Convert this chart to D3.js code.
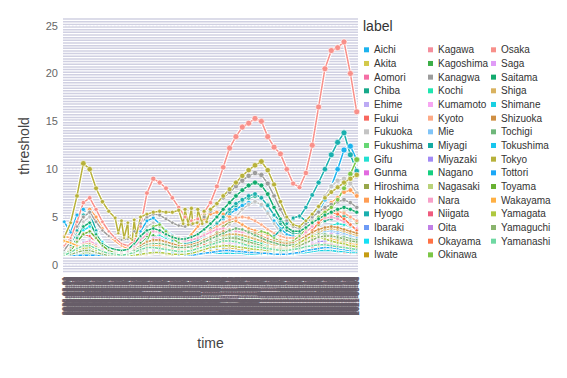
<!DOCTYPE html>
<html>
<head>
<meta charset="utf-8">
<script src="https://cdnjs.cloudflare.com/ajax/libs/d3/7.8.5/d3.min.js"></script>
<style>
body { margin: 0; background: #fff; }
text { font-family: "Liberation Sans", Arial, Helvetica, sans-serif; }
</style>
</head>
<body>
<div id="chart"></div>
<script>
// categories (legend order)
var labels = ["Aichi","Akita","Aomori","Chiba","Ehime","Fukui","Fukuoka","Fukushima","Gifu","Gunma",
  "Hiroshima","Hokkaido","Hyogo","Ibaraki","Ishikawa","Iwate","Kagawa","Kagoshima","Kanagwa","Kochi",
  "Kumamoto","Kyoto","Mie","Miyagi","Miyazaki","Nagano","Nagasaki","Nara","Niigata","Oita",
  "Okayama","Okinawa","Osaka","Saga","Saitama","Shiga","Shimane","Shizuoka","Tochigi","Tokushima",
  "Tokyo","Tottori","Toyama","Wakayama","Yamagata","Yamaguchi","Yamanashi"];

var palette = ["#1cb3ee","#d3c94b","#f56fa6","#17a98a","#bcaaf4","#f8675f","#c4c4c4","#66d774","#22e0d2","#e26ae0",
  "#98a74b","#ff9d54","#1aafae","#6e9bf5","#16e0f5","#c59c12","#f48e9c","#3cae47","#9c9c9c","#1fe6b0",
  "#f7a6f2","#fdaa86","#80c4f7","#14aba2","#a28af5","#15cf80","#b9d27a","#f7a0c8","#ef5b7e","#c07fe6",
  "#ff7245","#7cc646","#f8908a","#e09bf7","#12aa6e","#d9b25f","#18d0e2","#cf8f43","#6fb77a","#17c6ee",
  "#b7b13a","#1ba8f7","#68b132","#ffb043","#afc83f","#8ab46d","#6fd8a2"];

// one value every 10 days from startDate
var startDate = "2020-03-01", stepDays = 10, endDate = "2021-06-04";

var Aichi     = [4.5,3.4,5.2,5.8,5.0,3.6,2.4,1.7,1.3,1.2,1.3,2.0,3.5,4.6,4.9,4.3,3.6,3.1,2.8,2.7,2.8,3.0,3.3,3.7,4.2,4.8,5.3,5.8,6.2,6.5,6.6,6.2,5.5,4.6,3.8,3.2,3.0,3.2,3.8,4.6,5.6,6.8,8.2,10.0,12.0,12.4,11.0];
var Akita     = [1.0,1.0,1.2,1.4,1.5,1.3,1.1,1.0,1.0,1.0,1.0,1.0,1.1,1.2,1.3,1.2,1.1,1.0,1.0,1.0,1.1,1.2,1.3,1.4,1.5,1.6,1.7,1.8,1.7,1.6,1.5,1.6,1.4,1.3,1.2,1.1,1.1,1.3,1.5,1.7,1.9,2.1,2.2,2.0,1.8,1.6,1.5];
var Aomori    = [1.0,1.0,1.1,1.3,1.4,1.2,1.0,1.0,1.0,1.0,1.0,1.0,1.0,1.1,1.2,1.3,1.2,1.1,1.0,1.0,1.1,1.3,1.5,1.7,1.8,1.9,1.8,1.7,1.6,1.5,1.4,1.3,1.3,1.2,1.2,1.1,1.2,1.4,1.6,1.9,2.1,2.3,2.4,2.3,2.1,1.9,1.8];
var Chiba     = [1.3,2.0,3.0,3.8,4.0,3.0,2.2,1.7,1.5,1.4,1.5,2.0,2.8,3.4,3.6,3.4,3.0,2.7,2.5,2.4,2.5,2.8,3.2,3.8,4.4,5.0,5.6,6.2,6.7,7.0,7.2,7.0,6.3,5.2,4.3,3.6,3.3,3.3,3.6,4.0,4.3,4.6,4.8,5.0,5.1,4.9,4.6];
var Ehime     = [1.0,1.1,1.3,1.6,1.8,1.5,1.2,1.0,1.0,1.0,1.0,1.1,1.2,1.4,1.6,1.7,1.5,1.3,1.2,1.1,1.2,1.3,1.5,1.7,1.9,2.1,2.2,2.1,2.0,1.9,1.8,1.7,1.6,1.4,1.3,1.3,1.4,1.6,2.0,2.4,2.7,2.6,2.4,2.2,2.0,1.8,1.7];
var Fukui     = [1.2,1.8,2.6,3.2,3.0,2.2,1.5,1.1,1.0,1.0,1.0,1.0,1.1,1.3,1.5,1.4,1.3,1.2,1.1,1.0,1.0,1.1,1.2,1.3,1.4,1.5,1.5,1.4,1.4,1.3,1.3,1.2,1.2,1.1,1.1,1.2,1.3,1.5,1.7,1.8,1.7,1.6,1.5,1.4,1.3,1.2,1.2];
var Fukuoka   = [1.0,1.5,3.0,4.5,5.0,3.2,2.0,1.4,1.2,1.1,1.2,1.8,3.0,4.0,4.4,4.0,3.2,2.6,2.2,2.0,2.0,2.1,2.3,2.6,3.0,3.5,4.2,5.0,5.8,6.3,6.6,6.3,5.4,4.3,3.4,2.8,2.6,3.0,3.8,4.8,6.0,7.2,8.2,8.8,9.0,8.5,7.5];
var Fukushima = [1.0,1.1,1.3,1.6,1.8,1.6,1.3,1.1,1.0,1.0,1.0,1.1,1.2,1.4,1.5,1.5,1.4,1.3,1.2,1.2,1.3,1.5,1.7,1.9,2.0,2.1,2.2,2.3,2.2,2.1,2.0,1.9,1.8,1.7,1.6,1.7,1.9,2.1,2.3,2.5,2.6,2.5,2.4,2.3,2.2,2.1,2.0];
var Gifu      = [1.3,1.8,2.6,3.2,3.4,2.8,2.0,1.4,1.2,1.1,1.1,1.4,2.0,2.6,3.0,3.1,2.8,2.4,2.1,2.0,2.0,2.1,2.3,2.6,2.9,3.2,3.4,3.5,3.6,3.5,3.3,3.1,2.8,2.5,2.2,2.0,2.0,2.2,2.6,3.0,3.4,3.8,4.1,4.3,4.2,4.0,3.7];
var Gunma     = [1.1,1.4,1.8,2.1,2.2,1.9,1.5,1.2,1.1,1.0,1.1,1.3,1.6,1.9,2.1,2.2,2.0,1.8,1.7,1.7,1.9,2.2,2.5,2.8,3.0,3.2,3.3,3.2,3.0,2.8,2.6,2.5,2.3,2.1,1.9,1.8,1.8,2.0,2.3,2.6,2.9,3.1,3.3,3.4,3.3,3.1,2.9];
var Hiroshima = [1.0,1.2,1.6,2.0,2.2,1.8,1.4,1.2,1.1,1.0,1.1,1.4,1.8,2.2,2.5,2.6,2.4,2.1,1.9,1.8,1.8,2.0,2.3,2.8,3.4,4.0,4.5,4.6,4.2,3.8,3.4,3.0,2.7,2.4,2.2,2.0,2.0,2.3,2.8,3.4,4.2,4.9,5.4,5.6,5.5,5.0,4.4];
var Hokkaido  = [3.0,2.8,3.5,5.0,5.8,5.0,3.8,3.0,2.5,2.0,1.7,1.6,1.8,2.0,2.2,2.2,2.0,1.9,2.0,2.5,3.2,4.0,4.8,5.3,5.5,5.3,5.0,4.6,4.2,3.8,3.6,3.4,3.1,2.8,2.6,2.5,2.5,2.8,3.4,4.2,5.0,5.8,6.5,7.0,7.6,7.8,7.2];
var Hyogo     = [1.2,1.8,3.6,5.2,5.5,3.6,2.2,1.6,1.3,1.2,1.3,1.6,2.5,3.2,3.5,3.4,3.0,2.6,2.3,2.2,2.3,2.6,3.0,3.6,4.3,5.0,5.8,6.4,6.8,7.2,7.4,7.0,6.2,5.2,4.6,4.6,4.8,5.0,6.0,7.3,8.6,10.0,11.5,12.8,13.8,11.5,9.8];
var Ibaraki   = [1.1,1.5,2.0,2.4,2.6,2.2,1.7,1.4,1.2,1.2,1.3,1.6,2.0,2.3,2.5,2.4,2.2,2.0,1.9,1.9,2.0,2.2,2.5,2.8,3.1,3.3,3.5,3.6,3.5,3.3,3.1,2.9,2.7,2.5,2.3,2.2,2.2,2.5,2.9,3.2,3.5,3.6,3.5,3.3,3.2,3.0,2.8];
var Ishikawa  = [1.2,1.8,2.8,3.6,4.0,3.3,2.4,1.7,1.3,1.1,1.1,1.3,1.7,2.0,2.2,2.2,2.0,1.8,1.6,1.5,1.6,1.8,2.0,2.2,2.4,2.5,2.6,2.5,2.4,2.2,2.1,2.0,1.9,1.8,1.7,1.7,1.9,2.2,2.6,2.9,3.0,2.9,2.7,2.5,2.4,2.2,2.1];
var Iwate     = [1.0,1.0,1.0,1.0,1.0,1.0,1.0,1.0,1.0,1.0,1.0,1.0,1.0,1.1,1.2,1.2,1.1,1.0,1.0,1.0,1.1,1.2,1.4,1.5,1.6,1.7,1.8,1.7,1.6,1.5,1.4,1.3,1.3,1.2,1.2,1.2,1.3,1.4,1.5,1.6,1.7,1.8,1.8,1.7,1.6,1.5,1.4];
var Kagawa    = [1.0,1.1,1.3,1.5,1.6,1.4,1.2,1.0,1.0,1.0,1.0,1.0,1.1,1.2,1.4,1.5,1.4,1.3,1.2,1.2,1.3,1.4,1.6,1.7,1.8,1.9,2.0,2.0,1.9,1.8,1.7,1.6,1.5,1.4,1.3,1.3,1.4,1.6,1.8,2.0,2.1,2.0,1.9,1.8,1.7,1.6,1.5];
var Kagoshima = [1.0,1.0,1.1,1.3,1.4,1.3,1.1,1.0,1.0,1.0,1.1,1.5,2.3,3.0,3.1,2.7,2.2,1.8,1.6,1.5,1.5,1.6,1.7,1.8,1.9,2.0,2.1,2.0,1.9,1.8,1.7,1.6,1.5,1.4,1.3,1.3,1.4,1.6,1.8,2.1,2.4,2.6,2.5,2.3,2.1,1.9,1.8];
var Kanagwa   = [1.5,2.5,4.0,5.0,5.5,4.5,3.6,3.0,2.8,2.6,2.7,3.5,4.3,5.0,5.3,5.2,4.8,4.4,4.1,4.0,4.2,4.5,5.0,5.6,6.3,7.0,7.6,8.2,8.8,9.3,9.6,9.4,8.5,7.2,5.8,4.6,4.0,3.8,4.3,5.0,5.5,6.0,6.3,6.6,6.8,6.5,6.0];
var Kochi     = [1.0,1.3,1.7,2.0,2.1,1.7,1.3,1.1,1.0,1.0,1.0,1.1,1.2,1.4,1.5,1.5,1.4,1.3,1.2,1.2,1.3,1.5,1.8,2.2,2.6,2.8,2.7,2.4,2.1,1.9,1.7,1.6,1.5,1.4,1.3,1.3,1.4,1.6,1.8,2.0,2.2,2.2,2.1,2.0,1.9,1.8,1.7];
var Kumamoto  = [1.0,1.1,1.3,1.6,1.8,1.6,1.3,1.1,1.0,1.0,1.1,1.4,1.9,2.4,2.8,2.8,2.5,2.2,2.0,1.9,1.9,2.0,2.2,2.4,2.6,2.8,2.9,3.0,2.9,2.7,2.5,2.3,2.1,1.9,1.8,1.7,1.8,2.1,2.5,2.9,3.3,3.6,3.8,3.7,3.5,3.2,3.0];
var Kyoto     = [1.2,1.8,2.6,3.3,3.5,2.8,2.1,1.7,1.5,1.4,1.5,1.9,2.6,3.2,3.6,3.6,3.3,3.0,2.8,2.7,2.7,2.9,3.2,3.6,4.0,4.4,4.7,4.9,5.0,4.9,4.6,4.2,3.7,3.3,3.0,2.8,2.8,3.1,3.6,4.2,4.8,5.3,5.5,5.6,5.4,5.0,4.6];
var Mie       = [1.0,1.1,1.3,1.5,1.6,1.4,1.2,1.0,1.0,1.0,1.1,1.4,1.8,2.2,2.5,2.5,2.3,2.1,1.9,1.8,1.8,1.9,2.1,2.3,2.5,2.7,2.9,3.0,2.9,2.7,2.5,2.3,2.1,1.9,1.8,1.7,1.8,2.0,2.4,2.8,3.2,3.5,3.6,3.5,3.3,3.1,2.9];
var Miyagi    = [1.0,1.3,1.7,2.0,2.1,1.8,1.4,1.2,1.1,1.0,1.0,1.1,1.3,1.5,1.6,1.6,1.5,1.4,1.4,1.5,1.7,1.9,2.1,2.3,2.4,2.5,2.5,2.4,2.3,2.2,2.2,2.3,2.6,3.0,3.6,4.3,4.9,5.1,4.6,4.0,3.4,2.9,2.6,2.4,2.3,2.2,2.1];
var Miyazaki  = [1.0,1.0,1.1,1.3,1.4,1.3,1.1,1.0,1.0,1.0,1.1,1.3,1.6,1.9,2.0,1.9,1.7,1.5,1.4,1.4,1.5,1.7,1.9,2.2,2.6,3.0,3.2,3.1,2.8,2.5,2.2,2.0,1.8,1.6,1.5,1.4,1.5,1.7,1.9,2.2,2.4,2.5,2.5,2.4,2.3,2.1,2.0];
var Nagano    = [1.0,1.2,1.5,1.7,1.8,1.6,1.3,1.1,1.0,1.0,1.1,1.3,1.5,1.7,1.8,1.8,1.7,1.6,1.5,1.5,1.6,1.8,2.1,2.4,2.7,2.9,3.0,3.0,2.8,2.6,2.4,2.2,2.0,1.8,1.7,1.6,1.7,1.9,2.2,2.5,2.8,3.0,3.0,2.9,2.8,2.6,2.4];
var Nagasaki  = [1.0,1.0,1.2,1.4,1.5,1.3,1.1,1.0,1.0,1.0,1.1,1.4,1.8,2.2,2.5,2.4,2.1,1.9,1.7,1.6,1.6,1.7,1.9,2.1,2.3,2.5,2.5,2.4,2.2,2.0,1.9,1.8,1.7,1.6,1.5,1.5,1.6,1.8,2.1,2.5,2.8,3.0,3.0,2.9,2.7,2.5,2.3];
var Nara      = [1.0,1.4,1.9,2.3,2.5,2.1,1.6,1.3,1.2,1.2,1.4,1.9,2.6,3.2,3.5,3.4,3.1,2.8,2.6,2.5,2.6,2.8,3.1,3.4,3.7,3.8,3.7,3.5,3.4,3.3,3.2,3.0,2.8,2.6,2.4,2.3,2.5,2.9,3.4,4.0,4.5,4.9,5.0,4.8,4.5,4.1,3.8];
var Niigata   = [1.0,1.2,1.5,1.7,1.8,1.5,1.3,1.1,1.0,1.0,1.0,1.1,1.2,1.4,1.5,1.5,1.4,1.3,1.3,1.3,1.4,1.5,1.6,1.8,1.9,2.0,2.0,1.9,1.8,1.7,1.7,1.6,1.5,1.5,1.4,1.4,1.5,1.7,1.9,2.1,2.2,2.2,2.1,2.0,1.9,1.8,1.7];
var Oita      = [1.1,1.4,1.8,2.0,2.0,1.7,1.4,1.2,1.1,1.0,1.0,1.1,1.3,1.5,1.5,1.5,1.4,1.3,1.3,1.3,1.4,1.6,1.8,2.0,2.2,2.4,2.4,2.3,2.2,2.0,1.9,1.8,1.7,1.6,1.5,1.5,1.6,1.8,2.1,2.4,2.7,2.8,2.8,2.7,2.6,2.4,2.3];
var Okayama   = [1.0,1.1,1.3,1.5,1.5,1.3,1.1,1.0,1.0,1.0,1.1,1.3,1.6,1.9,2.0,2.0,1.8,1.7,1.6,1.6,1.7,1.9,2.1,2.3,2.5,2.5,2.4,2.3,2.2,2.1,2.0,1.9,1.8,1.7,1.6,1.6,1.8,2.2,2.8,3.6,4.4,5.1,5.5,5.3,4.8,4.2,3.6];
var Okinawa   = [1.0,1.0,1.1,1.2,1.2,1.1,1.0,1.0,1.0,1.0,1.0,1.1,1.3,2.5,4.0,4.2,3.5,2.8,2.3,2.0,2.0,2.2,2.5,2.8,3.0,3.0,2.8,2.6,2.6,2.8,3.2,3.5,3.3,2.8,2.4,2.3,2.5,3.0,3.8,4.5,5.0,5.5,6.0,6.8,8.0,9.5,11.0];
var Osaka     = [2.0,2.8,4.5,6.5,7.0,5.8,4.5,3.5,2.8,2.2,2.0,2.5,4.0,7.5,9.0,8.6,8.0,7.0,6.0,5.0,4.6,4.8,5.5,6.5,8.2,10.2,12.2,13.4,14.4,14.8,15.3,15.0,13.4,12.3,11.6,10.0,8.5,8.1,9.6,12.5,16.5,20.5,22.4,22.7,23.3,20.0,16.0];
var Saga      = [1.0,1.1,1.4,1.7,1.8,1.5,1.2,1.0,1.0,1.0,1.1,1.3,1.5,1.7,1.8,1.8,1.6,1.5,1.4,1.4,1.5,1.7,1.9,2.1,2.2,2.3,2.3,2.2,2.1,2.0,1.9,1.8,1.7,1.6,1.5,1.5,1.6,1.9,2.2,2.5,2.8,3.0,3.0,2.9,2.7,2.5,2.3];
var Saitama   = [1.2,1.6,2.8,4.0,4.4,3.2,2.2,1.8,1.6,1.5,1.6,2.2,3.0,3.6,3.8,3.6,3.2,2.9,2.7,2.7,2.9,3.2,3.7,4.3,5.0,5.8,6.5,7.2,7.8,8.3,8.6,8.3,7.4,6.0,4.8,3.9,3.5,3.5,3.9,4.4,4.8,5.2,5.5,5.8,6.0,5.8,5.5];
var Shiga     = [1.0,1.3,1.8,2.1,2.2,1.9,1.5,1.2,1.1,1.1,1.2,1.6,2.0,2.3,2.5,2.5,2.3,2.1,2.0,1.9,2.0,2.2,2.4,2.7,2.9,3.1,3.2,3.2,3.1,2.9,2.7,2.5,2.3,2.1,2.0,1.9,2.0,2.3,2.7,3.1,3.4,3.7,3.8,3.7,3.5,3.3,3.1];
var Shimane   = [1.0,1.0,1.0,1.0,1.0,1.0,1.0,1.0,1.0,1.0,1.0,1.1,1.4,1.8,2.0,1.8,1.5,1.3,1.2,1.1,1.1,1.1,1.2,1.2,1.2,1.2,1.2,1.2,1.2,1.1,1.1,1.1,1.1,1.1,1.1,1.1,1.1,1.2,1.3,1.4,1.5,1.5,1.5,1.4,1.4,1.3,1.3];
var Shizuoka  = [1.0,1.2,1.6,1.9,2.0,1.7,1.4,1.2,1.1,1.1,1.2,1.6,2.0,2.4,2.6,2.6,2.4,2.2,2.0,2.0,2.1,2.3,2.6,2.9,3.2,3.5,3.7,3.8,3.7,3.5,3.3,3.0,2.7,2.5,2.3,2.2,2.3,2.6,3.0,3.4,3.7,3.9,4.0,3.9,3.7,3.5,3.3];
var Tochigi   = [1.0,1.2,1.6,1.9,2.0,1.7,1.4,1.2,1.1,1.1,1.2,1.5,1.8,2.1,2.2,2.2,2.1,1.9,1.8,1.8,1.9,2.1,2.4,2.7,3.0,3.3,3.6,3.8,3.7,3.4,3.1,2.8,2.5,2.3,2.1,2.0,2.1,2.4,2.7,3.0,3.2,3.2,3.1,3.0,2.9,2.7,2.6];
var Tokushima = [1.0,1.1,1.3,1.5,1.6,1.4,1.2,1.0,1.0,1.0,1.0,1.1,1.2,1.3,1.4,1.4,1.3,1.2,1.2,1.2,1.3,1.4,1.6,1.7,1.8,1.9,2.0,2.0,1.9,1.8,1.7,1.6,1.5,1.5,1.4,1.4,1.6,1.9,2.3,2.7,3.0,2.9,2.7,2.5,2.3,2.1,2.0];
var Tokyo     = [2.9,4.4,7.2,10.6,10.0,8.0,6.6,5.6,4.9,4.6,4.4,4.7,5.0,5.3,5.5,5.6,5.5,5.5,5.7,5.8,5.9,5.8,5.6,5.8,6.4,7.2,7.9,8.6,9.3,9.9,10.4,10.8,9.9,8.4,6.6,5.0,4.2,4.0,4.6,5.3,6.1,7.0,7.6,8.1,8.6,9.0,9.4];
var Tottori   = [1.0,1.0,1.0,1.0,1.0,1.0,1.0,1.0,1.0,1.0,1.0,1.0,1.1,1.2,1.3,1.3,1.2,1.1,1.0,1.0,1.0,1.1,1.2,1.3,1.4,1.5,1.5,1.4,1.4,1.3,1.3,1.2,1.2,1.1,1.1,1.1,1.2,1.3,1.5,1.6,1.7,1.8,1.8,1.7,1.6,1.5,1.5];
var Toyama    = [1.1,1.5,2.4,3.2,3.5,2.8,2.0,1.5,1.2,1.1,1.1,1.2,1.4,1.6,1.8,1.8,1.7,1.5,1.4,1.4,1.5,1.6,1.8,1.9,2.0,2.0,2.0,1.9,1.8,1.7,1.7,1.6,1.6,1.5,1.5,1.5,1.6,1.9,2.3,2.7,3.0,3.0,2.9,2.7,2.5,2.3,2.2];
var Wakayama  = [2.5,2.3,2.0,1.9,1.8,1.5,1.3,1.1,1.0,1.0,1.1,1.3,1.6,1.9,2.0,2.0,1.8,1.6,1.5,1.5,1.6,1.7,1.9,2.1,2.3,2.4,2.5,2.4,2.3,2.2,2.1,2.0,1.9,1.8,1.7,1.7,1.8,2.1,2.5,2.8,3.0,2.9,2.7,2.5,2.3,2.2,2.1];
var Yamagata  = [1.0,1.2,1.5,1.7,1.8,1.5,1.2,1.0,1.0,1.0,1.0,1.0,1.1,1.2,1.3,1.3,1.2,1.1,1.1,1.1,1.2,1.4,1.6,1.8,1.9,2.0,2.0,1.9,1.8,1.7,1.6,1.6,1.5,1.5,1.5,1.6,1.9,2.3,2.7,3.0,2.9,2.7,2.5,2.3,2.2,2.0,1.9];
var Yamaguchi = [1.0,1.1,1.3,1.5,1.5,1.3,1.1,1.0,1.0,1.0,1.1,1.3,1.5,1.7,1.8,1.8,1.7,1.5,1.4,1.4,1.5,1.7,1.9,2.2,2.5,2.7,2.8,2.8,2.6,2.4,2.2,2.0,1.8,1.7,1.6,1.6,1.7,2.0,2.3,2.6,2.9,3.0,3.0,2.9,2.7,2.5,2.4];
var Yamanashi = [1.0,1.3,1.7,2.0,2.0,1.7,1.4,1.2,1.1,1.0,1.1,1.3,1.6,1.8,1.8,1.7,1.6,1.5,1.4,1.4,1.5,1.7,1.9,2.1,2.3,2.5,2.5,2.4,2.2,2.0,1.9,1.8,1.7,1.6,1.5,1.5,1.6,1.7,1.9,2.0,2.1,2.1,2.0,1.9,1.8,1.7,1.6];

// single-day drops in the Tokyo series
var tokyoDipDates  = ["2020-05-25","2020-06-03","2020-06-10","2020-06-16","2020-06-22","2020-09-04","2020-09-12","2020-09-19","2020-09-26","2020-10-04","2020-10-11"];
var tokyoDipValues = [3.3,2.8,2.9,2.6,3.0,4.3,4.2,4.3,4.4,4.3,4.5];

var yTicks = [0, 5, 10, 15, 20, 25];

var values = [Aichi,Akita,Aomori,Chiba,Ehime,Fukui,Fukuoka,Fukushima,Gifu,Gunma,
  Hiroshima,Hokkaido,Hyogo,Ibaraki,Ishikawa,Iwate,Kagawa,Kagoshima,Kanagwa,Kochi,
  Kumamoto,Kyoto,Mie,Miyagi,Miyazaki,Nagano,Nagasaki,Nara,Niigata,Oita,
  Okayama,Okinawa,Osaka,Saga,Saitama,Shiga,Shimane,Shizuoka,Tochigi,Tokushima,
  Tokyo,Tottori,Toyama,Wakayama,Yamagata,Yamaguchi,Yamanashi];

var W = 567, H = 378;
var P = {left: 63, right: 358, top: 18, bottom: 272};

var parse = d3.timeParse("%Y-%m-%d");
var t0 = parse(startDate), t1 = parse(endDate);

var svg = d3.select("#chart").append("svg").attr("width", W).attr("height", H);

var x = d3.scaleTime()
    .domain([d3.timeDay.offset(t0, -2), d3.timeDay.offset(t1, 2)])
    .range([P.left, P.right]);
var y = d3.scaleLinear().domain([-0.75, 25.8]).range([P.bottom, P.top]);
var r = d3.scaleSqrt().domain([0, 12]).range([0, 3]).clamp(true);

// panel with dense stripes
svg.append("rect").attr("x", P.left).attr("y", P.top)
  .attr("width", P.right - P.left).attr("height", P.bottom - P.top).attr("fill", "#ffffff");
svg.append("g").selectAll("line").data(d3.range(-0.7, 25.8, 5 / 18)).join("line")
  .attr("x1", P.left).attr("x2", P.right)
  .attr("y1", function (d) { return y(d); }).attr("y2", function (d) { return y(d); })
  .attr("stroke", "#d0d0e2").attr("stroke-width", 1.5);
svg.append("g").selectAll("line").data(yTicks).join("line")
  .attr("x1", P.left).attr("x2", P.right)
  .attr("y1", function (d) { return y(d); }).attr("y2", function (d) { return y(d); })
  .attr("stroke", "#ffffff").attr("stroke-width", 1).attr("stroke-dasharray", "2,1.5");

// build series
var series = labels.map(function (name, k) {
  var pts = values[k].map(function (v, i) {
    return {date: d3.timeDay.offset(t0, i * stepDays), v: v};
  });
  if (name === "Tokyo") {
    tokyoDipDates.forEach(function (d, j) { pts.push({date: parse(d), v: tokyoDipValues[j]}); });
    pts.sort(function (a, b) { return a.date - b.date; });
  }
  return {name: name, color: palette[k], pts: pts};
});

var line = d3.line().x(function (d) { return x(d.date); }).y(function (d) { return y(d.v); });

var gl = svg.append("g");
series.forEach(function (s) {
  gl.append("path").datum(s.pts).attr("d", line).attr("fill", "none")
    .attr("stroke", "#ffffff").attr("stroke-width", 3.6).attr("stroke-linejoin", "round");
  gl.append("path").datum(s.pts).attr("d", line).attr("fill", "none")
    .attr("stroke", s.color).attr("stroke-width", 1.5).attr("stroke-linejoin", "round");
});

var gp = svg.append("g");
series.forEach(function (s) {
  gp.selectAll(null).data(s.pts).join("circle")
    .attr("cx", function (d) { return x(d.date); })
    .attr("cy", function (d) { return y(d.v); })
    .attr("r", function (d) { return r(d.v); })
    .attr("fill", s.color).attr("stroke", "#ffffff").attr("stroke-width", 0.6);
});

// y axis labels
svg.append("g").selectAll("text").data(yTicks).join("text")
  .attr("x", 58).attr("y", function (d) { return y(d); }).attr("dy", "0.35em")
  .attr("text-anchor", "end").attr("font-size", 11).attr("fill", "#666666")
  .text(function (d) { return d; });

// x axis labels: one per day, overlapping
var fmt = d3.timeFormat("%Y-%m-%d");
var days = d3.timeDay.range(t0, d3.timeDay.offset(t1, 1));
svg.append("g").selectAll("text").data(days).join("text")
  .attr("transform", function (d) { return "translate(" + x(d) + ",296) rotate(-90)"; })
  .attr("text-anchor", "middle").attr("dy", "0.35em")
  .attr("font-size", 7.5).attr("font-weight", "bold").attr("fill", "#675d68")
  .text(function (d) { return fmt(d); });

// axis titles
svg.append("text").attr("x", 210.5).attr("y", 348).attr("text-anchor", "middle")
  .attr("font-size", 14).attr("fill", "#444444").text("time");
svg.append("text").attr("transform", "translate(28.5,146) rotate(-90)")
  .attr("text-anchor", "middle").attr("font-size", 14).attr("fill", "#444444").text("threshold");

// legend
var lg = svg.append("g");
lg.append("text").attr("x", 363).attr("y", 31).attr("font-size", 14).attr("fill", "#333333").text("label");
var colX = [364, 428, 491], rowY0 = 49.8, rowStep = 13.67;
labels.forEach(function (name, k) {
  var c = Math.floor(k / 16), row = k % 16;
  var cy = rowY0 + row * rowStep;
  lg.append("rect").attr("x", colX[c]).attr("y", cy - 2.5).attr("width", 5).attr("height", 5)
    .attr("fill", palette[k]);
  lg.append("text").attr("x", colX[c] + 10).attr("y", cy).attr("dy", "0.35em")
    .attr("font-size", 10).attr("fill", "#333333").text(name);
});
</script>
</body>
</html>
